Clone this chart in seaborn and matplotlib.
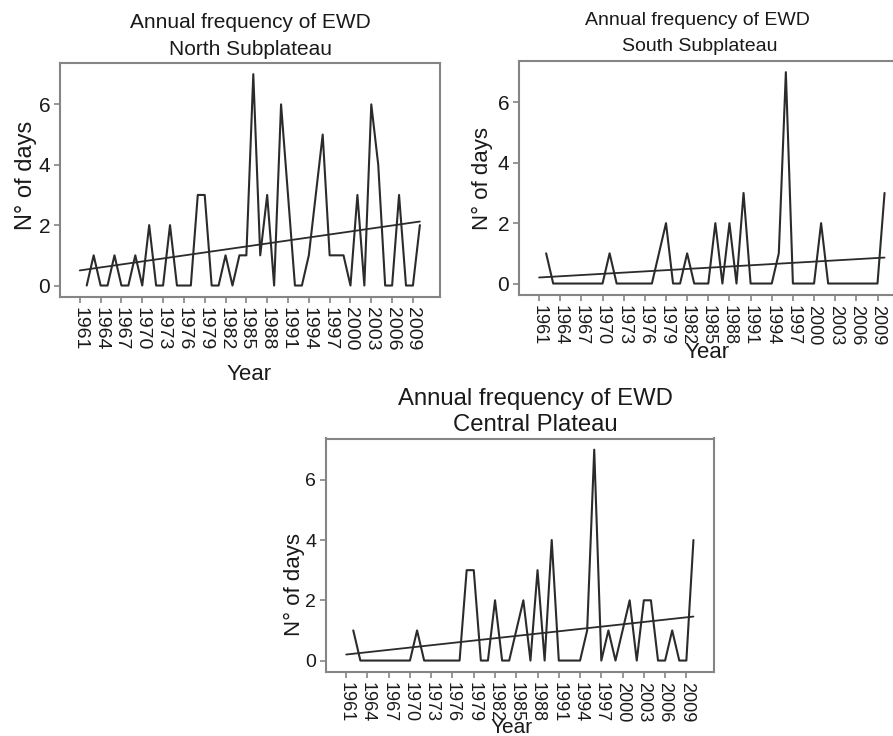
import numpy as np
import pandas as pd
import matplotlib
matplotlib.use("Agg")
import matplotlib.pyplot as plt
import seaborn as sns

# ---- data ----
years = np.arange(1962, 2011)
north = [0, 1, 0, 0, 1, 0, 0, 1, 0, 2,   # 1962-1971
         0, 0, 2, 0, 0, 0, 3, 3, 0, 0,   # 1972-1981
         1, 0, 1, 1, 7, 1, 3, 0, 6, 3,   # 1982-1991
         0, 0, 1, 3, 5, 1, 1, 1, 0, 3,   # 1992-2001
         0, 6, 4, 0, 0, 3, 0, 0, 2]      # 2002-2010
south = [1, 0, 0, 0, 0, 0, 0, 0, 0, 1,
         0, 0, 0, 0, 0, 0, 1, 2, 0, 0,
         1, 0, 0, 0, 2, 0, 2, 0, 3, 0,
         0, 0, 0, 1, 7, 0, 0, 0, 0, 2,
         0, 0, 0, 0, 0, 0, 0, 0, 3]
central = [1, 0, 0, 0, 0, 0, 0, 0, 0, 1,
           0, 0, 0, 0, 0, 0, 3, 3, 0, 0,
           2, 0, 0, 1, 2, 0, 3, 0, 4, 0,
           0, 0, 0, 1, 7, 0, 1, 0, 1, 2,
           0, 2, 2, 0, 0, 1, 0, 0, 4]
trend_years = [1961, 2010]
north_trend = [0.50, 2.12]
south_trend = [0.20, 0.86]
central_trend = [0.20, 1.46]
xtick_years = list(range(1961, 2010, 3))
ytick_vals = [0, 2, 4, 6]

sns.set_style("white")
plt.rcParams['font.family'] = ['Liberation Sans', 'DejaVu Sans']

W, H = 893, 736
fig = plt.figure(figsize=(W / 100, H / 100), dpi=100)

def px_rect(l, t, r, b):
    return [l / W, 1 - b / H, (r - l) / W, (b - t) / H]

LINE = "#2b2b2b"
SPINE = "#858585"

def panel(rect, vals, trend, tick_fs, ytick_fs):
    ax = fig.add_axes(rect)
    df = pd.DataFrame({"Year": years, "Days": vals})
    tdf = pd.DataFrame({"Year": trend_years, "Days": trend})
    sns.lineplot(data=df, x="Year", y="Days", ax=ax, color=LINE, lw=1.5)
    sns.lineplot(data=tdf, x="Year", y="Days", ax=ax, color=LINE, lw=1.3)
    ax.set_xlim(1958.15, 2012.9)
    ax.set_ylim(-0.38, 7.37)
    ax.set_xticks(xtick_years)
    ax.set_xticklabels([str(y) for y in xtick_years], rotation=270,
                       fontsize=tick_fs, color="#1a1a1a")
    ax.set_yticks(ytick_vals)
    ax.set_yticklabels([str(v) for v in ytick_vals], fontsize=ytick_fs,
                       color="#1a1a1a")
    ax.tick_params(axis="both", direction="out", length=4, width=1.2,
                   color=SPINE, pad=3, bottom=True, left=True)
    for s in ax.spines.values():
        s.set_color(SPINE)
        s.set_linewidth(1.5)
    ax.set_xlabel("")
    ax.set_ylabel("")
    return ax

panel(px_rect(60, 63, 440, 297), north, north_trend, 14, 15)
panel(px_rect(519, 61, 905, 295), south, south_trend, 13, 15)
panel(px_rect(326, 438.5, 714, 672), central, central_trend, 13, 14)

def ftxt(x, y, s, fs, **kw):
    fig.text(x / W, 1 - y / H, s, fontsize=fs, color="#1a1a1a", **kw)

# titles
ftxt(250.5, 28.5, "Annual frequency of EWD", 15, ha="center", va="baseline")
ftxt(250.5, 55, "North Subplateau", 15, ha="center", va="baseline")
ftxt(697, 25, "Annual frequency of EWD", 14, ha="center", va="baseline")
ftxt(700, 51, "South Subplateau", 14, ha="center", va="baseline")
ftxt(535, 405, "Annual frequency of EWD", 17.2, ha="center", va="baseline")
ftxt(535, 431, "Central Plateau", 17.2, ha="center", va="baseline")

# axis labels
ftxt(26, 175, "N° of days", 17, ha="center", va="center", rotation=90)
ftxt(482, 179, "N° of days", 16, ha="center", va="center", rotation=90)
ftxt(294, 585, "N° of days", 16, ha="center", va="center", rotation=90)
ftxt(249, 380, "Year", 16, ha="center", va="baseline")
ftxt(707, 358, "Year", 16, ha="center", va="baseline")
ftxt(512, 733, "Year", 15, ha="center", va="baseline")

fig.savefig("out.png", dpi=100)
